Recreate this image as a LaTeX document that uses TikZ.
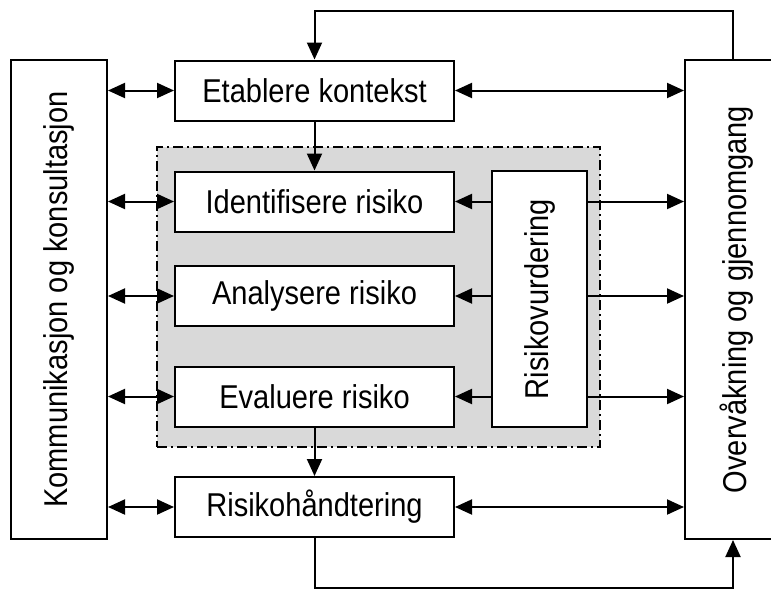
\documentclass[tikz,border=0pt]{standalone}
\usepackage{fontspec}
\usepackage{graphicx}
\setmainfont{Liberation Sans}[FakeStretch=0.88]
\usetikzlibrary{arrows.meta}
\begin{document}
\begin{tikzpicture}[x=1pt,y=-1pt,
  box/.style={draw, line width=2pt, fill=white, inner sep=0pt,
    font=\fontsize{33}{37}\selectfont},
  wide/.style={box, minimum width=279pt, minimum height=60pt},
  tall/.style={box, minimum width=96pt, minimum height=479pt},
  tip/.tip={Triangle[length=17pt,width=15pt]},
  link/.style={line width=2pt, -tip},
  both/.style={line width=2pt, tip-tip},
  zone/.style={fill=gray!30, draw, line width=2pt,
    dash pattern=on 10pt off 4pt on 2pt off 4pt, inner sep=0pt}]
\useasboundingbox (0,0) rectangle (771,590);
\clip (0,0) rectangle (771,590);
\fill[white] (0,0) rectangle (771,590);

% shaded risk assessment zone
\node[zone, minimum width=443pt, minimum height=300pt] (zone) at (378.5,297) {};

% side columns
\node[tall] (komm) at (59,299.5) {\rotatebox{90}{Kommunikasjon og konsultasjon}};
\node[tall, minimum width=104pt] (overv) at (737,299.5) {\rotatebox{90}{Overvåkning og gjennomgang}};

% process steps
\node[wide] (etab)  at (314.5,90.5) {Etablere kontekst};
\node[wide] (ident) at (314.5,201.5) {Identifisere risiko};
\node[wide] (anal)  at (314.5,296) {Analysere risiko};
\node[wide] (eval)  at (314.5,396.5) {Evaluere risiko};
\node[wide] (risk)  at (314.5,507) {Risikohåndtering};
\node[box, minimum width=95pt, minimum height=256pt] (rv) at (539.5,299)
  {\rotatebox{90}{Risikovurdering}};

% communication links
\foreach \n in {etab,ident,anal,eval,risk}
  \draw[both] (komm.east |- \n.west) -- (\n.west);
\foreach \n in {etab,risk}
  \draw[both] (\n.east) -- (overv.west |- \n.east);
\foreach \n in {ident,anal,eval}{
  \draw[link] (rv.west |- \n.east) -- (\n.east);
  \draw[link] (rv.east |- \n.east) -- (overv.west |- \n.east);
}

% main flow
\draw[link] (etab.south) -- (ident.north);
\draw[link] (eval.south) -- (risk.north);

% feedback loops
\coordinate (rt) at (733,11);
\coordinate (rb) at (733,588);
\draw[link] (overv.north -| rt) -- (rt) -| (etab.north);
\draw[link] (risk.south) |- (rb) -- (overv.south -| rb);
\end{tikzpicture}
\end{document}
